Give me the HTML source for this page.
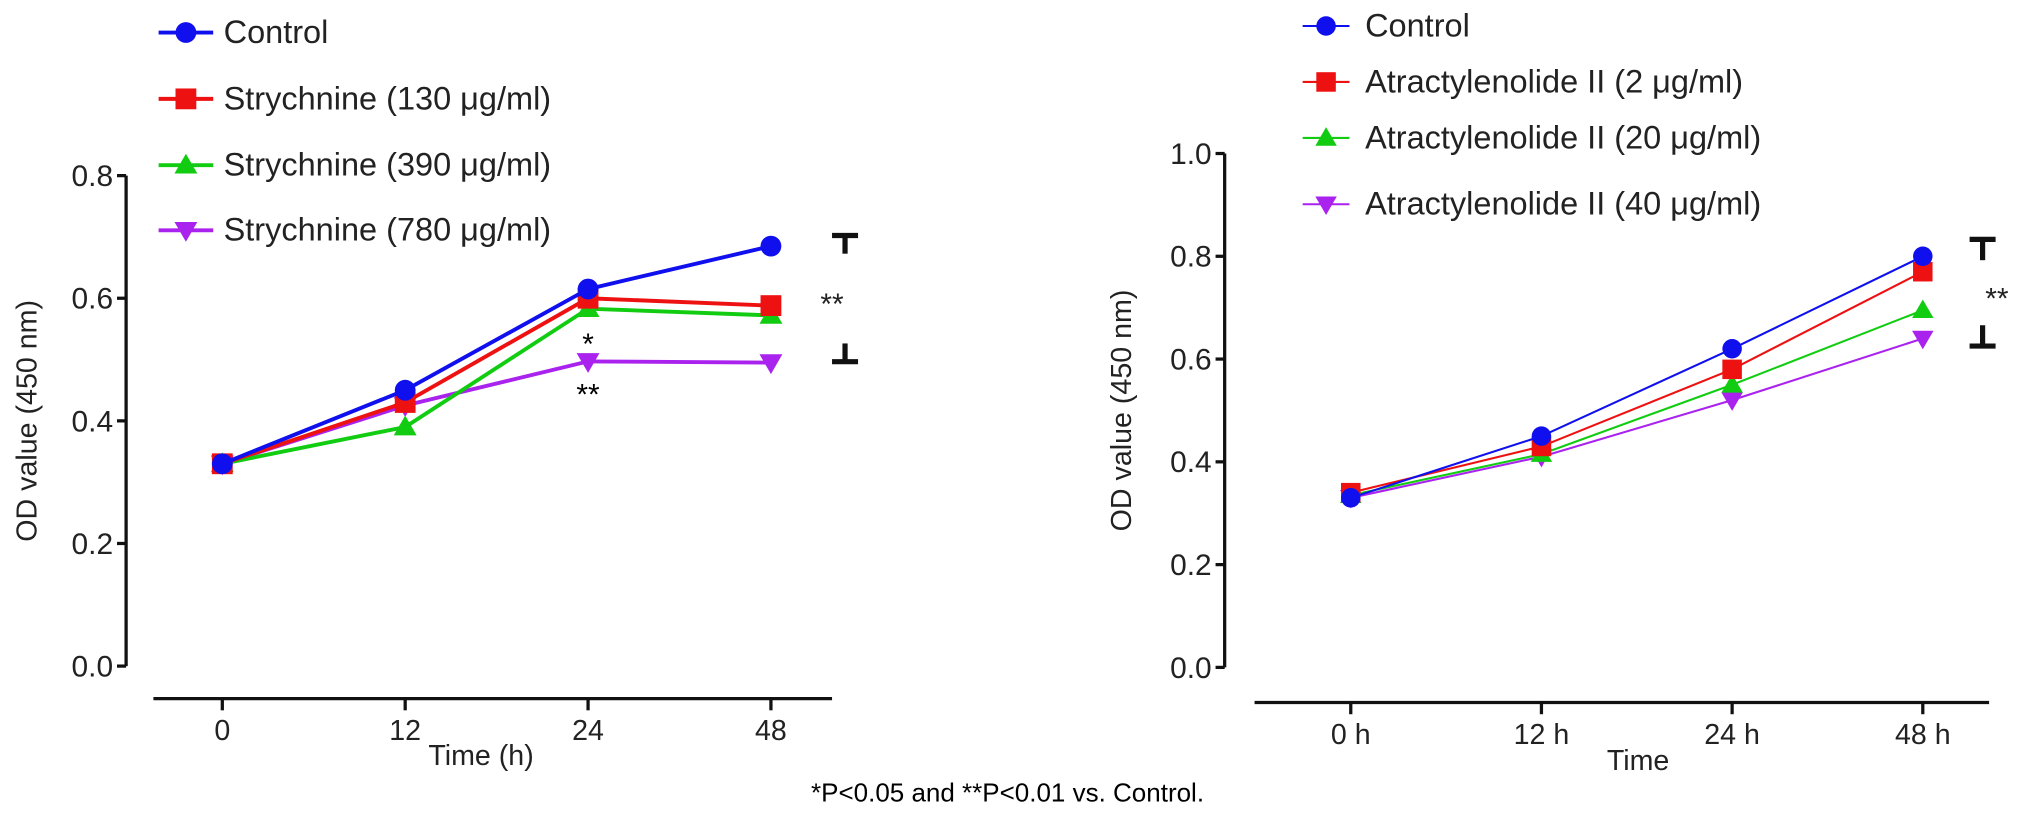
<!DOCTYPE html>
<html><head><meta charset="utf-8"><style>
html,body{margin:0;padding:0;background:#fff;}
svg{display:block;font-family:"Liberation Sans",Arial,sans-serif;}
</style></head><body>
<svg id="fig" width="2032" height="817" viewBox="0 0 1563 628" preserveAspectRatio="none">
<g id="left"></g>
<g id="right"></g>
<text x="775" y="616" font-size="20" text-anchor="middle">*P&lt;0.05 and **P&lt;0.01 vs. Control.</text>
</svg>
<script>
const NS='http://www.w3.org/2000/svg';
const leftCats=['0','12','24','48'];
const leftNames=['Control','Strychnine (130 μg/ml)','Strychnine (390 μg/ml)','Strychnine (780 μg/ml)'];
const leftControl=[0.33,0.45,0.615,0.685];
const left130=[0.33,0.43,0.60,0.588];
const left390=[0.33,0.39,0.583,0.572];
const left780=[0.33,0.425,0.497,0.495];
const leftTicks=['0.0','0.2','0.4','0.6','0.8'];
const rightCats=['0 h','12 h','24 h','48 h'];
const rightNames=['Control','Atractylenolide II (2 μg/ml)','Atractylenolide II (20 μg/ml)','Atractylenolide II (40 μg/ml)'];
const rightControl=[0.33,0.45,0.62,0.80];
const right2=[0.34,0.43,0.58,0.77];
const right20=[0.335,0.415,0.55,0.695];
const right40=[0.33,0.41,0.52,0.64];
const rightTicks=['0.0','0.2','0.4','0.6','0.8','1.0'];
const colors=['#1010ee','#ee1111','#11cc11','#aa22ee'];
const shapes=['circle','square','up','down'];

function el(parent,tag,attrs,text){const e=document.createElementNS(NS,tag);for(const k in attrs)e.setAttribute(k,attrs[k]);if(text!==undefined)e.textContent=text;parent.appendChild(e);return e;}
function marker(g,shape,x,y,r,c){
  let m;
  if(shape==='circle')m=el(g,'circle',{cx:x,cy:y,r:r,fill:c});
  else if(shape==='square')m=el(g,'rect',{x:x-r,y:y-r,width:2*r,height:2*r,fill:c});
  else if(shape==='up')m=el(g,'polygon',{points:`${x},${y-r*1.1} ${x-r*1.1},${y+r*0.8} ${x+r*1.1},${y+r*0.8}`,fill:c});
  else m=el(g,'polygon',{points:`${x},${y+r*1.1} ${x-r*1.1},${y-r*0.8} ${x+r*1.1},${y-r*0.8}`,fill:c});
  
  
  return m;
}
function chart(cfg){
  const g=document.getElementById(cfg.id);
  const yS=v=>cfg.y0-(v/cfg.ymax)*(cfg.y0-cfg.yTop);
  const xS=i=>cfg.xs[0]+i*(cfg.xs[1]-cfg.xs[0])/(cfg.cats.length-1);
  const ya=el(g,'line',{x1:cfg.ax,y1:yS(cfg.ymax),x2:cfg.ax,y2:cfg.y0,stroke:'#111','stroke-width':2.5});
  
  cfg.ticks.forEach(t=>{const v=parseFloat(t);const y=yS(v);
    el(g,'line',{x1:cfg.ax-7,y1:y,x2:cfg.ax,y2:y,stroke:'#111','stroke-width':2.5});
    const tl=el(g,'text',{x:cfg.ax-10,y:y+8,'font-size':23,'text-anchor':'end',fill:'#222'},t);
    });
  const yt=el(g,'text',{x:cfg.ytx,y:(cfg.y0+cfg.yTop)/2,'font-size':22,'text-anchor':'middle',transform:`rotate(-90 ${cfg.ytx} ${(cfg.y0+cfg.yTop)/2})`,fill:'#222'},'OD value (450 nm)');
  
  const xa=el(g,'line',{x1:cfg.xa[0],y1:cfg.xy,x2:cfg.xa[1],y2:cfg.xy,stroke:'#111','stroke-width':2.5});
  
  cfg.cats.forEach((c,i)=>{const x=xS(i);
    el(g,'line',{x1:x,y1:cfg.xy,x2:x,y2:cfg.xy+9,stroke:'#111','stroke-width':2.5});
    const tl=el(g,'text',{x:x,y:cfg.xy+32,'font-size':22,'text-anchor':'middle',fill:'#222'},c);
    });
  const xt=el(g,'text',{x:cfg.xtx,y:cfg.xty,'font-size':22,'text-anchor':'middle',fill:'#222'},cfg.xtitle);
  
  for(let s=cfg.series.length-1;s>=0;s--){
    const vals=cfg.series[s];
    const sg=el(g,'g',{});
    
    const pl=el(sg,'polyline',{points:vals.map((v,i)=>xS(i)+','+yS(v)).join(' '),fill:'none',stroke:colors[s],'stroke-width':cfg.lw});
    
    vals.forEach((v,i)=>marker(sg,shapes[s],xS(i),yS(v),cfg.mr,colors[s]));
  }
  cfg.names.forEach((n,i)=>{const y=cfg.legY[i];
    const lg=el(g,'g',{});
    
    el(lg,'line',{x1:cfg.legX-cfg.legHalf,y1:y,x2:cfg.legX+cfg.legHalf,y2:y,stroke:colors[i],'stroke-width':cfg.lw});
    marker(lg,shapes[i],cfg.legX,y,cfg.mr,colors[i]);
    el(lg,'text',{x:cfg.legX+cfg.legGap,y:y+8,'font-size':cfg.legFs,fill:'#222'},n);
  });
  const b=cfg.br;
  const bg=el(g,'g',{stroke:'#111','stroke-width':4,fill:'none'});
  
  el(bg,'line',{x1:b.x-10,y1:b.y1,x2:b.x+10,y2:b.y1});
  el(bg,'line',{x1:b.x,y1:b.y1,x2:b.x,y2:b.y1+b.h});
  el(bg,'line',{x1:b.x-10,y1:b.y2,x2:b.x+10,y2:b.y2});
  el(bg,'line',{x1:b.x,y1:b.y2,x2:b.x,y2:b.y2-b.h});
  const st=el(g,'text',{x:b.sx,y:(b.y1+b.y2)/2+12,'font-size':23,'text-anchor':'middle',fill:'#222'},'**');
  
  return {xS,yS,g};
}
const L=chart({id:'left',cats:leftCats,names:leftNames,series:[leftControl,left130,left390,left780],ticks:leftTicks,
  ymax:0.8,y0:512,yTop:135,ax:97,ytx:28,xs:[171,593],xa:[118,640],xy:537,xtx:370,xty:588,xtitle:'Time (h)',
  lw:3,mr:8,legX:143,legHalf:21,legY:[25,76,127,177],legGap:29,legFs:25,br:{x:650,y1:181,y2:278,h:14,sx:640}});
const s1=document.createElementNS(NS,'text');
s1.setAttribute('x',L.xS(2));s1.setAttribute('y',L.yS(leftControl[2])+50);s1.setAttribute('font-size','23');s1.setAttribute('text-anchor','middle');s1.textContent='*';


L.g.appendChild(s1);
const s2=document.createElementNS(NS,'text');
s2.setAttribute('x',L.xS(2));s2.setAttribute('y',L.yS(left780[2])+33);s2.setAttribute('font-size','23');s2.setAttribute('text-anchor','middle');s2.textContent='**';


L.g.appendChild(s2);
chart({id:'right',cats:rightCats,names:rightNames,series:[rightControl,right2,right20,right40],ticks:rightTicks,
  ymax:1.0,y0:513,yTop:118,ax:942,ytx:870,xs:[1039,1479],xa:[965,1530],xy:540,xtx:1260,xty:592,xtitle:'Time',
  lw:1.6,mr:7.5,legX:1020,legHalf:18,legY:[20,63,106,157],legGap:30,legFs:25,br:{x:1525,y1:184,y2:266,h:16,sx:1536}});
</script>
</body></html>
